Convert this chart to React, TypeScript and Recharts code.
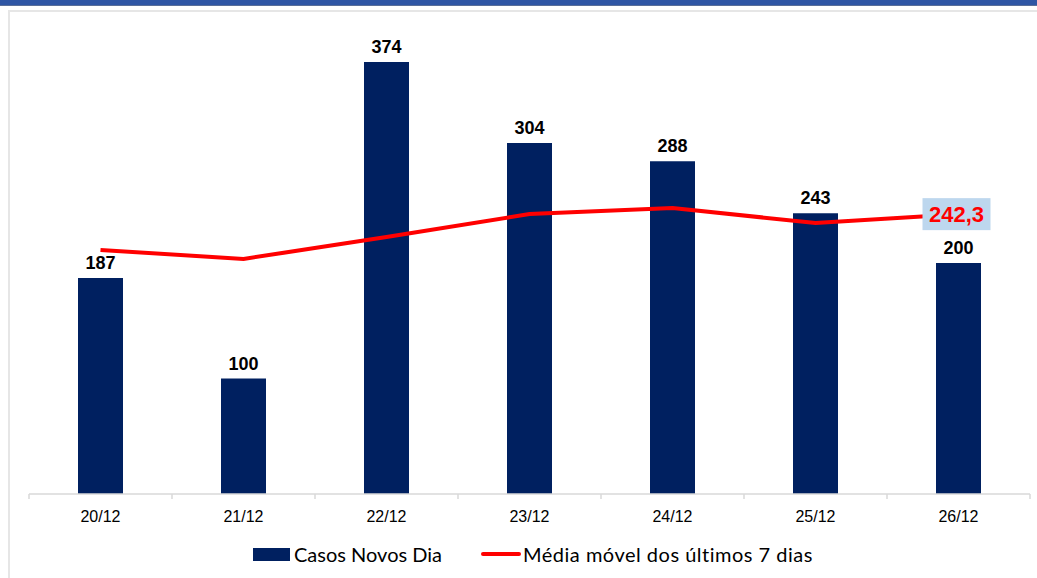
import React from "react";
import { ComposedChart, Bar, Line, XAxis, YAxis, LabelList, Legend } from "recharts";

const categories = ["20/12", "21/12", "22/12", "23/12", "24/12", "25/12", "26/12"];
const casosNovos = [187, 100, 374, 304, 288, 243, 200];
const mediaMovel = [211.3, 203.5, 222.5, 242.4, 247.6, 234.6, 242.3];
const mediaLabels = ["", "", "", "", "", "", "242,3"];

const data = categories.map((c, i) => ({
  dia: c,
  casos: casosNovos[i],
  media: mediaMovel[i],
  mediaLabel: mediaLabels[i],
}));

const W = 1037;
const H = 578;
const M = { top: 32, right: 7, left: 29, bottom: 44 };
const plotW = W - M.left - M.right;
const band = plotW / categories.length;

const AXIS_GRAY = "#d9d9d9";

const CustomTick = (props: any) => {
  const { x, y, payload, index } = props;
  const left = x - band / 2;
  return (
    <g>
      <line x1={left} y1={y - 8} x2={left} y2={y - 3} stroke={AXIS_GRAY} strokeWidth={1.5} />
      {index === categories.length - 1 && (
        <line x1={x + band / 2} y1={y - 8} x2={x + band / 2} y2={y - 3} stroke={AXIS_GRAY} strokeWidth={1.5} />
      )}
      <text
        x={x}
        y={y + 20}
        textAnchor="middle"
        fontFamily="'Liberation Sans', Arial, sans-serif"
        fontSize={16}
        fill="#000"
      >
        {payload.value}
      </text>
    </g>
  );
};

const MediaLabel = (props: any) => {
  const { x, y, value } = props;
  if (!value) return null;
  const bw = 68;
  const bh = 32;
  return (
    <g>
      <rect x={x - bw / 2 - 2} y={y - bh / 2} width={bw} height={bh} fill="#bdd7ee" />
      <text
        x={x - 2}
        y={y + 8}
        textAnchor="middle"
        fontFamily="'Liberation Sans', Arial, sans-serif"
        fontWeight="bold"
        fontSize={22}
        fill="#ff0000"
      >
        {value}
      </text>
    </g>
  );
};

const LegendContent = () => (
  <div
    style={{
      display: "flex",
      justifyContent: "flex-start",
      alignItems: "center",
      fontFamily: "Lato, 'Open Sans', sans-serif",
      fontSize: 20,
      color: "#000",
      paddingLeft: 253,
      height: 30,
    }}
  >
    <span style={{ display: "inline-block", width: 37, height: 13, background: "#002060", marginRight: 4 }} />
    <span>Casos Novos Dia</span>
    <span
      style={{
        display: "inline-block",
        width: 40,
        height: 4,
        borderRadius: 2,
        background: "#ff0000",
        marginLeft: 39,
        marginRight: 2,
      }}
    />
    <span style={{ letterSpacing: 0.5 }}>Média móvel dos últimos 7 dias</span>
  </div>
);

export default function App() {
  return (
    <div style={{ position: "absolute", left: 0, top: 0, width: W, height: H, background: "#fff", overflow: "hidden" }}>
      <div style={{ position: "absolute", left: 0, top: 0, width: W, height: 5, background: "#2f56a4" }} />
      <div style={{ position: "absolute", left: 0, top: 5, width: W, height: 1, background: "#5a6f99" }} />
      <div style={{ position: "absolute", left: 8, top: 10, width: W - 8, height: 2, background: "#e6e6e6" }} />
      <div style={{ position: "absolute", left: 8, top: 10, width: 2, height: H - 10, background: "#e6e6e6" }} />
      <div style={{ position: "absolute", left: 0, top: 0 }}>
        <ComposedChart width={W} height={H} data={data} margin={M}>
          <XAxis
            dataKey="dia"
            axisLine={{ stroke: AXIS_GRAY, strokeWidth: 1.5 }}
            tickLine={false}
            tick={<CustomTick />}
            interval={0}
            height={40}
          />
          <YAxis hide domain={[0, 400]} />
          <Bar dataKey="casos" fill="#002060" barSize={45} isAnimationActive={false}>
            <LabelList
              dataKey="casos"
              position="top"
              offset={9}
              fill="#000"
              fontSize={18}
              fontWeight="bold"
              fontFamily="'Liberation Sans', Arial, sans-serif"
            />
          </Bar>
          <Line
            dataKey="media"
            type="linear"
            stroke="#ff0000"
            strokeWidth={4}
            dot={false}
            activeDot={false}
            isAnimationActive={false}
          >
            <LabelList dataKey="mediaLabel" content={<MediaLabel />} />
          </Line>
          <Legend
            layout="horizontal"
            verticalAlign="middle"
            align="center"
            content={<LegendContent />}
            wrapperStyle={{ top: 539, left: 0, width: W }}
          />
        </ComposedChart>
      </div>
    </div>
  );
}
